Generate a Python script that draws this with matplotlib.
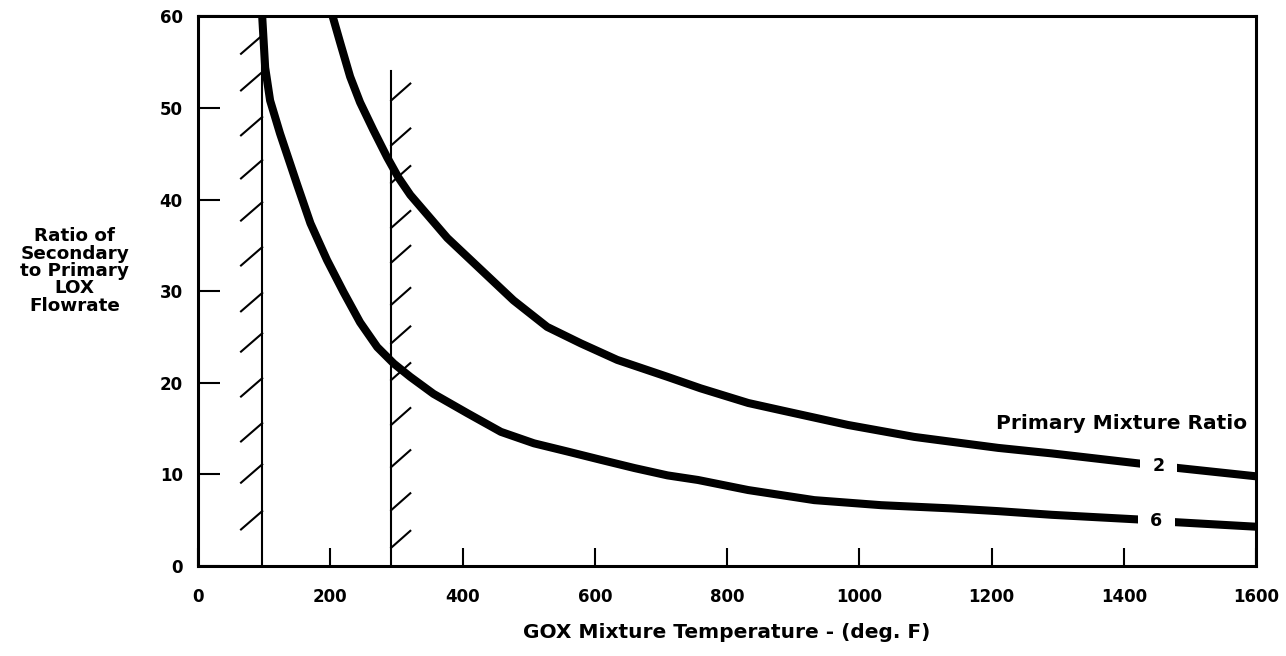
import numpy as np
import matplotlib
matplotlib.use("Agg")
import matplotlib.pyplot as plt

plt.rcParams['font.family'] = ['DejaVu Sans']
plt.rcParams['font.weight'] = 'bold'

# curve: primary mixture ratio 2
temp_mr2 = [203.5, 215, 230, 245, 265, 286, 303, 321, 377, 427, 477, 528, 579, 634,
            710, 760, 832, 882, 983, 1083, 1210, 1291, 1423, 1483, 1600]
ratio_mr2 = [60, 57.1, 53.4, 50.6, 47.6, 44.6, 42.4, 40.5, 35.8, 32.4, 29.0, 26.1, 24.3, 22.5,
             20.65, 19.4, 17.8, 17.0, 15.4, 14.1, 12.9, 12.3, 11.2, 10.7, 9.8]

# primary mixture ratio 6
temp_mr6 = [97, 101.5, 109, 124, 150, 170, 195, 220, 245, 271, 296, 321, 356, 407, 458,
            508, 559, 609, 660, 710, 756, 832, 932, 1033, 1139, 1210, 1291, 1420, 1477, 1600]
ratio_mr6 = [60, 54.4, 50.8, 47.2, 41.6, 37.4, 33.4, 29.9, 26.6, 23.9, 22.1, 20.65, 18.8, 16.7, 14.65,
             13.4, 12.5, 11.6, 10.7, 9.9, 9.4, 8.3, 7.2, 6.65, 6.3, 6.0, 5.6, 5.1, 4.8, 4.3]

# limit lines
low_limit = 97
high_limit = 292
high_limit_top = 54
hatch_low_y = [6.0, 11.1, 15.6, 20.5, 25.4, 29.8, 34.8, 39.7, 44.3, 49.0, 53.9, 57.9]
hatch_high_y = [2.0, 6.1, 10.8, 15.4, 20.3, 24.3, 28.5, 33.1, 36.9, 41.8, 45.9, 50.8]

x_ticks = [0, 200, 400, 600, 800, 1000, 1200, 1400, 1600]
y_ticks = [0, 10, 20, 30, 40, 50, 60]

fig = plt.figure(figsize=(12.86, 6.56), dpi=100)
ax = fig.add_axes([0.154, 0.137, 0.8227, 0.8383])

ax.plot(temp_mr2, ratio_mr2, color='black', lw=5.8, solid_capstyle='butt', solid_joinstyle='round')
ax.plot(temp_mr6, ratio_mr6, color='black', lw=5.8, solid_capstyle='butt', solid_joinstyle='round')

# hatched limits
ax.plot([low_limit, low_limit], [0, 60], color='black', lw=1.5)
for y0 in hatch_low_y:
    ax.plot([low_limit, low_limit - 32], [y0, y0 - 2.0], color='black', lw=1.5)
ax.plot([high_limit, high_limit], [0, high_limit_top], color='black', lw=1.5)
for y0 in hatch_high_y:
    ax.plot([high_limit, high_limit + 29], [y0, y0 + 1.85], color='black', lw=1.5)

box = dict(facecolor='white', edgecolor='none', pad=9)
ax.text(1453, 10.9, '2', ha='center', va='center', fontsize=12.5, fontweight='bold', bbox=box, zorder=5)
ax.text(1449, 4.9, '6', ha='center', va='center', fontsize=12.5, fontweight='bold', bbox=box, zorder=5)
ax.text(1587, 15.6, 'Primary Mixture Ratio', ha='right', va='center', fontsize=14.5, fontweight='bold')

ax.set_xlim(0, 1600)
ax.set_ylim(0, 60)
ax.set_xticks(x_ticks)
ax.set_yticks(y_ticks)
ax.tick_params(axis='x', direction='in', length=13, width=1.5, pad=16, labelsize=12)
ax.tick_params(axis='y', direction='in', length=16, width=1.5, pad=11, labelsize=12)
for lab in ax.get_xticklabels() + ax.get_yticklabels():
    lab.set_fontweight('bold')
for s in ax.spines.values():
    s.set_linewidth(2.2)

ax.set_xlabel('GOX Mixture Temperature - (deg. F)', fontsize=14.5, fontweight='bold', labelpad=12)
fig.text(0.058, 0.587, 'Ratio of\nSecondary\nto Primary\nLOX\nFlowrate', ha='center', va='center',
         fontsize=13.2, fontweight='bold', linespacing=0.95)

fig.savefig('out.png', dpi=100)
